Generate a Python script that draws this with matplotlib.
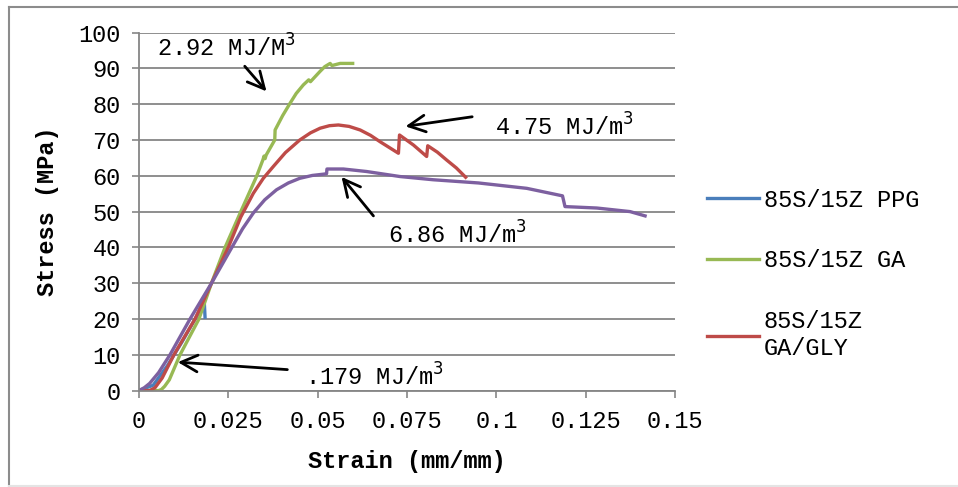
import matplotlib.pyplot as plt
from matplotlib.lines import Line2D

plt.rcParams['font.family'] = ['Liberation Mono', 'DejaVu Sans Mono']

# Datos
ppg_x = [0, 0.004, 0.008, 0.012, 0.016, 0.0183, 0.0185]
ppg_y = [0, 1.5, 7, 13.5, 20.5, 24.5, 20.5]

ga_x = [0, 0.0055, 0.0063, 0.0072, 0.0085, 0.0115, 0.0168, 0.0203, 0.0241, 0.0285,
        0.0329, 0.0347, 0.0350, 0.0353, 0.0356, 0.038, 0.0381, 0.0402, 0.0423, 0.044,
        0.046, 0.0475, 0.048, 0.0493, 0.0507, 0.052, 0.0535, 0.054, 0.0563, 0.0598]
ga_y = [0, 0, 0.3, 1.2, 3, 10, 20, 30, 40, 50,
        59.8, 64.5, 65.5, 64.8, 65.8, 70, 72.8, 76.8, 80.3, 83.0,
        85.4, 86.8, 86.3, 87.7, 89.2, 90.5, 91.4, 90.8, 91.4, 91.4]

gly_x = [0, 0.003, 0.0045, 0.0065, 0.0098, 0.0157, 0.0203, 0.025, 0.0285, 0.032,
         0.0348, 0.0376, 0.041, 0.045, 0.048, 0.0507, 0.0533, 0.0558, 0.0588, 0.0619,
         0.0648, 0.0675, 0.0726, 0.0729, 0.0768, 0.0805, 0.0808, 0.0835, 0.0861,
         0.0888, 0.0914]
gly_y = [0, 0, 0.8, 3.5, 10, 20, 30, 40, 48.5, 55.1,
         59.3, 62.6, 66.5, 70, 72.0, 73.3, 74.0, 74.2, 73.8, 72.8,
         71.3, 69.5, 66.3, 71.4, 68.6, 65.4, 68.4, 66.6, 64.4,
         62.2, 59.6]

pur_x = [0, 0.0015, 0.003, 0.0055, 0.0087, 0.0143, 0.0203, 0.026, 0.029, 0.032,
         0.0352, 0.0385, 0.0418, 0.045, 0.0485, 0.052, 0.0525, 0.0526, 0.0572, 0.0637,
         0.073, 0.0823, 0.095, 0.1085, 0.1185, 0.1192, 0.1281, 0.1374, 0.1416]
pur_y = [0, 0.8, 2, 5, 10, 20, 30, 40, 45.2, 49.6,
         53.3, 56.1, 58.0, 59.3, 60.1, 60.5, 60.6, 61.9, 61.9, 61.2,
         59.8, 58.9, 58.0, 56.5, 54.4, 51.4, 51.0, 50.0, 48.8]

x_ticks = [0, 0.025, 0.05, 0.075, 0.1, 0.125, 0.15]
x_labels = ['0', '0.025', '0.05', '0.075', '0.1', '0.125', '0.15']
y_ticks = list(range(0, 101, 10))

fs = 17

fig = plt.figure(figsize=(9.58, 4.87), dpi=100)
# Borde del área del gráfico (estilo Excel)
fig.add_artist(Line2D([0.0095, 1.0], [0.985, 0.985], color='#8c8c8c', lw=1.5))
fig.add_artist(Line2D([0.0095, 0.0095], [0.002, 0.985], color='#8c8c8c', lw=1.5))
fig.add_artist(Line2D([0.0095, 1.0], [0.003, 0.003], color='#e4e4e4', lw=1.5))

ax = fig.add_axes([0.145, 0.198, 0.5597, 0.735])

ax.plot(ppg_x, ppg_y, color='#4A7EBB', lw=2.4, label='85S/15Z PPG')
ax.plot(ga_x, ga_y, color='#98B954', lw=2.4, label='85S/15Z GA')
ax.plot(gly_x, gly_y, color='#BE4B48', lw=2.4, label='85S/15Z\nGA/GLY')
ax.plot(pur_x, pur_y, color='#7D60A0', lw=2.4)

ax.set_xlim(0, 0.15)
ax.set_ylim(0, 100)
ax.set_xticks(x_ticks)
ax.set_xticklabels(x_labels)
ax.set_yticks(y_ticks)
ax.tick_params(labelsize=fs, color='#868686', length=5, width=1.2)
ax.tick_params(axis='x', pad=9)
ax.tick_params(axis='y', pad=8)
ax.yaxis.grid(True, color='#868686', lw=1.3)
ax.set_axisbelow(True)
for s in ['top', 'right']:
    ax.spines[s].set_visible(False)
for s in ['left', 'bottom']:
    ax.spines[s].set_color('#868686')
    ax.spines[s].set_linewidth(1.3)

ax.set_xlabel('Strain (mm/mm)', fontsize=fs, fontweight='bold', labelpad=12)
ax.set_ylabel('Stress (MPa)', fontsize=fs, fontweight='bold', labelpad=14)

# Anotaciones de tenacidad
arr = dict(arrowstyle='->', color='black', lw=2, mutation_scale=30)
ax.annotate('', xy=(0.0362, 83), xytext=(0.0291, 91.2), arrowprops=arr)
ax.text(0.0052, 95.7, '2.92 MJ/M$^3$', fontsize=fs, va='center')

ax.annotate('', xy=(0.0738, 73.7), xytext=(0.0940, 76.6), arrowprops=arr)
ax.text(0.0995, 73.5, '4.75 MJ/m$^3$', fontsize=fs, va='center')

ax.annotate('', xy=(0.0562, 60.3), xytext=(0.0661, 48.2), arrowprops=arr)
ax.text(0.0697, 43.6, '6.86 MJ/m$^3$', fontsize=fs, va='center')

ax.annotate('', xy=(0.0101, 8.0), xytext=(0.0423, 5.8), arrowprops=arr)
ax.text(0.0465, 3.7, '.179 MJ/m$^3$', fontsize=fs, va='center')

fig.legend(loc='center left', bbox_to_anchor=(0.716, 0.437), frameon=False,
           fontsize=fs, handlelength=2.2, handletextpad=0.2, labelspacing=1.6)

fig.savefig('out.png', dpi=100)
